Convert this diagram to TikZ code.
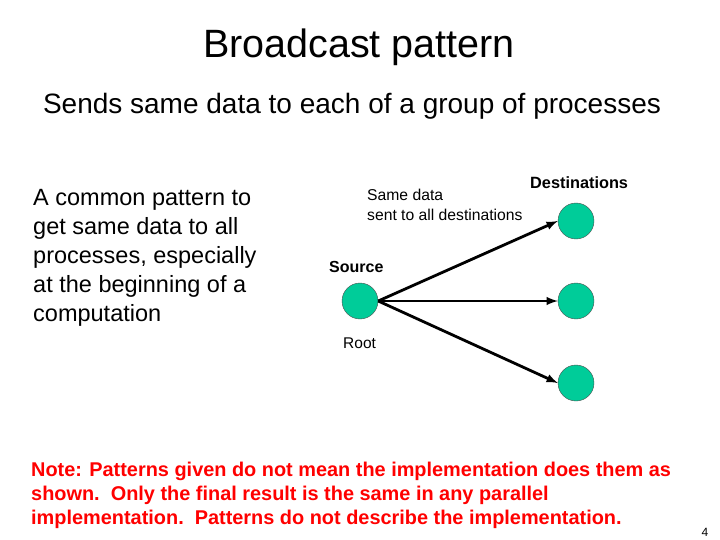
\documentclass[tikz,border=0pt]{standalone}
\usepackage{fontspec}
\setmainfont{Liberation Sans}
\begin{document}
\begin{tikzpicture}[x=1pt,y=-1pt,
  proc/.style={circle,draw=black!70,fill={rgb,255:red,0;green,204;blue,153},minimum size=36pt,inner sep=0pt},
  arr/.style={line width=2.8pt,-latex},
  lbl/.style={inner sep=0pt,anchor=west}]
\useasboundingbox (0,0) rectangle (720,540);
\node[font=\fontsize{39.5}{44}\selectfont] (title) at (359,47) {Broadcast pattern};
\node[font=\fontsize{28}{32}\selectfont] (sub) at (352,106) {Sends same data to each of a group of processes};
\node[lbl,anchor=north west,align=left,font=\fontsize{23.5}{29}\selectfont] (left) at (33,189) {A common pattern to\\get same data to all\\processes, especially\\at the beginning of a\\computation};
\node[proc] (src) at (360,301) {};
\node[proc] (d1) at (576,221) {};
\node[proc] (d2) at (576,301) {};
\node[proc] (d3) at (576,383) {};
\draw[arr] (src.east) -- (d1.west);
\draw[arr] (src.east) -- (d2.west);
\draw[arr] (src.east) -- (d3.west);
\node[lbl,font=\fontsize{16.3}{18}\selectfont\bfseries] (dest) at (530,183) {Destinations};
\node[lbl,anchor=north west,align=left,font=\fontsize{15.7}{20}\selectfont] (same) at (367,189) {Same data\\sent to all destinations};
\node[lbl,font=\fontsize{16}{18}\selectfont\bfseries] (source) at (329,267) {Source};
\node[lbl,font=\fontsize{15.5}{18}\selectfont] (root) at (343,343) {Root};
\node[lbl,anchor=north west,align=left,text=red,font=\fontsize{19.9}{24}\selectfont\bfseries] (note) at (31,462) {Note: Patterns given do not mean the implementation does them as\\shown.\ \ Only the final result is the same in any parallel\\implementation.\ \ Patterns do not describe the implementation.};
\node[font=\fontsize{12}{12}\selectfont] (pg) at (705,532) {4};
\end{tikzpicture}
\end{document}
